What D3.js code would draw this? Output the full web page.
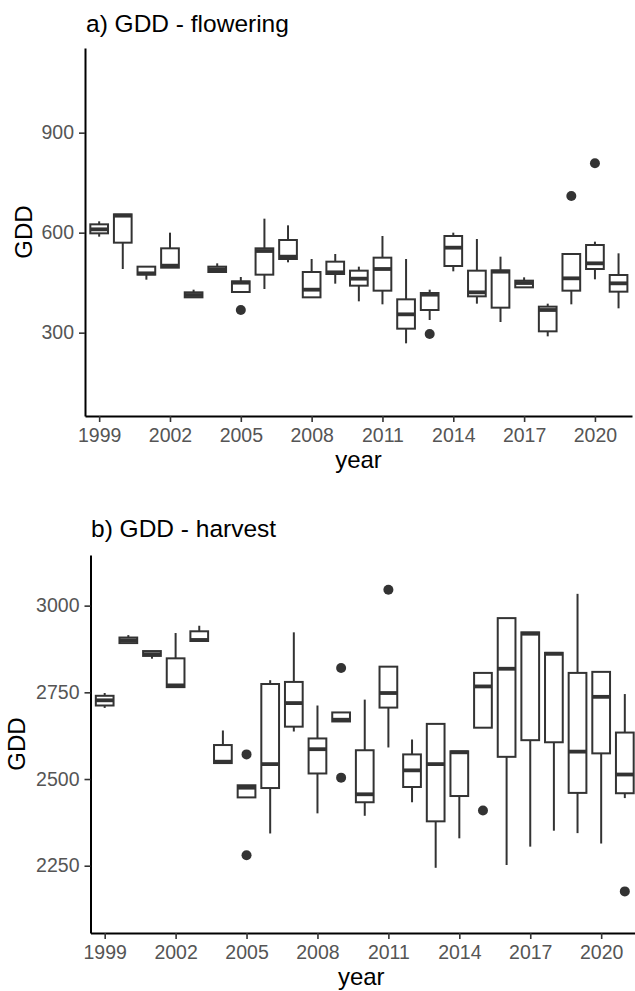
<!DOCTYPE html>
<html>
<head>
<meta charset="utf-8">
<script src="https://cdn.jsdelivr.net/npm/d3@7"></script>
<style>
  html, body { margin: 0; padding: 0; background: #fff; }
  svg { display: block; font-family: "Liberation Sans", Arial, sans-serif; }
</style>
</head>
<body>
<svg id="chart" width="635" height="991"></svg>
<script>
// ---------- data ----------
const years = d3.range(1999, 2022);
const xTicks = [1999, 2002, 2005, 2008, 2011, 2014, 2017, 2020];

// a) GDD - flowering
const aYTicks = [300, 600, 900];
const aLow  = [588, 491, 459, 495, 406, 482, 422, 431, 511, 406, 447, 394, 385, 268, 338, 484, 387, 332, 436, 289, 385, 460, 373];
const aQ1   = [598, 570, 474, 495, 406, 482, 422, 474, 521, 406, 476, 441, 426, 312, 368, 500, 409, 375, 436, 304, 426, 491, 423];
const aMed  = [610, 651, 478, 501, 413, 490, 450, 545, 528, 429, 481, 462, 491, 355, 414, 555, 421, 483, 449, 368, 463, 508, 448];
const aQ3   = [625, 655, 498, 553, 421, 498, 454, 553, 578, 482, 513, 486, 525, 400, 419, 590, 486, 487, 456, 378, 536, 563, 473];
const aHigh = [634, 655, 498, 600, 429, 508, 467, 642, 622, 521, 536, 498, 590, 521, 429, 600, 581, 528, 466, 387, 536, 573, 538];
const aOutYear = [2005, 2013, 2019, 2020];
const aOutVal  = [368, 296, 710, 808];

// b) GDD - harvest
const bYTicks = [2250, 2500, 2750, 3000];
const bLow  = [2705, 2892, 2847, 2765, 2898, 2546, 2447, 2343, 2637, 2401, 2666, 2394, 2591, 2433, 2244, 2329, 2648, 2252, 2305, 2351, 2344, 2314, 2445];
const bQ1   = [2712, 2892, 2855, 2765, 2898, 2546, 2447, 2474, 2651, 2516, 2666, 2433, 2706, 2477, 2378, 2451, 2648, 2564, 2612, 2606, 2460, 2574, 2459];
const bMed  = [2727, 2900, 2860, 2770, 2901, 2550, 2475, 2543, 2719, 2586, 2671, 2456, 2748, 2525, 2543, 2577, 2767, 2818, 2919, 2861, 2579, 2737, 2513];
const bQ3   = [2740, 2908, 2869, 2848, 2926, 2598, 2482, 2774, 2780, 2617, 2692, 2583, 2824, 2571, 2659, 2580, 2806, 2964, 2923, 2864, 2806, 2809, 2634];
const bHigh = [2748, 2915, 2869, 2921, 2942, 2640, 2482, 2785, 2923, 2712, 2692, 2729, 2824, 2614, 2659, 2580, 2806, 2964, 2923, 2864, 3034, 2809, 2745];
const bOutYear = [2005, 2005, 2009, 2009, 2011, 2015, 2021];
const bOutVal  = [2571, 2280, 2820, 2504, 3046, 2409, 2176];

// ---------- drawing ----------
const svg = d3.select("#chart");
const ink = "#333333";
const FONT = "'Liberation Sans', Arial, sans-serif";

function panel(cfg) {
  const g = svg.append("g");
  const x = d3.scaleLinear().domain(cfg.xDomain).range(cfg.xRange);
  const y = d3.scaleLinear().domain(cfg.yDomain).range(cfg.yRange);
  const bw = (x(1) - x(0)) * 0.75;

  const rows = years.map((yr, i) => ({
    yr, lo: cfg.low[i], q1: cfg.q1[i], med: cfg.med[i], q3: cfg.q3[i], hi: cfg.high[i]
  }));

  const bx = g.append("g").selectAll("g").data(rows).join("g");
  bx.append("line")
    .attr("x1", d => x(d.yr)).attr("x2", d => x(d.yr))
    .attr("y1", d => y(d.q3)).attr("y2", d => y(d.hi))
    .attr("stroke", ink).attr("stroke-width", 2);
  bx.append("line")
    .attr("x1", d => x(d.yr)).attr("x2", d => x(d.yr))
    .attr("y1", d => y(d.q1)).attr("y2", d => y(d.lo))
    .attr("stroke", ink).attr("stroke-width", 2);
  bx.append("rect")
    .attr("x", d => x(d.yr) - bw / 2).attr("width", bw)
    .attr("y", d => y(d.q3)).attr("height", d => Math.max(0.5, y(d.q1) - y(d.q3)))
    .attr("fill", "#fff").attr("stroke", ink).attr("stroke-width", 2);
  bx.append("line")
    .attr("x1", d => x(d.yr) - bw / 2).attr("x2", d => x(d.yr) + bw / 2)
    .attr("y1", d => y(d.med)).attr("y2", d => y(d.med))
    .attr("stroke", ink).attr("stroke-width", 3.8);

  g.append("g").selectAll("circle")
    .data(cfg.outYear.map((yr, i) => ({ yr, v: cfg.outVal[i] })))
    .join("circle")
    .attr("cx", d => x(d.yr)).attr("cy", d => y(d.v)).attr("r", 5)
    .attr("fill", ink);

  const yAxis = g.append("g")
    .attr("transform", `translate(${cfg.xRange[0]},0)`)
    .call(d3.axisLeft(y).tickValues(cfg.yTicks).tickFormat(d3.format("d"))
      .tickSize(6).tickPadding(5).tickSizeOuter(0));
  const xAxis = g.append("g")
    .attr("transform", `translate(0,${cfg.yRange[0]})`)
    .call(d3.axisBottom(x).tickValues(xTicks).tickFormat(d3.format("d"))
      .tickSize(6).tickPadding(6).tickSizeOuter(0));
  [yAxis, xAxis].forEach(a => {
    a.attr("font-family", FONT).attr("font-size", 19.5);
    a.select(".domain").attr("stroke", "#000").attr("stroke-width", 2);
    a.selectAll(".tick line").attr("stroke", ink).attr("stroke-width", 1.6);
    a.selectAll(".tick text").attr("fill", "#555555");
  });

  g.append("text").attr("x", cfg.titleX).attr("y", cfg.titleY)
    .attr("fill", "#000").style("font-size", "24.5px").text(cfg.title);
  g.append("text")
    .attr("x", (cfg.xRange[0] + 632) / 2).attr("y", cfg.xLabY)
    .attr("text-anchor", "middle").attr("fill", "#000").style("font-size", "24px").text("year");
  g.append("text")
    .attr("transform", `translate(${cfg.yLabX},${(cfg.yRange[0] + cfg.yRange[1]) / 2}) rotate(-90)`)
    .attr("text-anchor", "middle").attr("fill", "#000").style("font-size", "24px").text("GDD");
}

panel({
  xDomain: [1998.4, 2021.57], xRange: [85, 632],
  yDomain: [50, 1154], yRange: [416, 48],
  low: aLow, q1: aQ1, med: aMed, q3: aQ3, high: aHigh,
  outYear: aOutYear, outVal: aOutVal, yTicks: aYTicks,
  title: "a) GDD - flowering", titleX: 86, titleY: 32, xLabY: 468, yLabX: 32
});

panel({
  xDomain: [1998.4, 2021.6], xRange: [90.5, 639],
  yDomain: [2056, 3146], yRange: [933, 555],
  low: bLow, q1: bQ1, med: bMed, q3: bQ3, high: bHigh,
  outYear: bOutYear, outVal: bOutVal, yTicks: bYTicks,
  title: "b) GDD - harvest", titleX: 91, titleY: 537, xLabY: 985, yLabX: 25
});
</script>
</body>
</html>
